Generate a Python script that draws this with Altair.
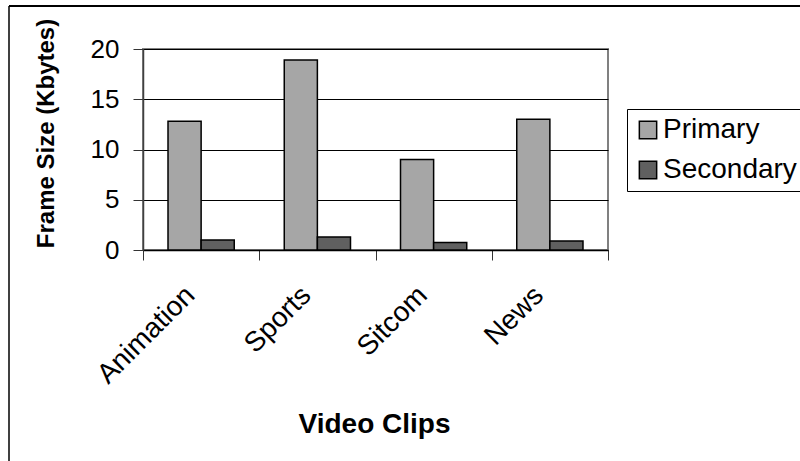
import altair as alt
import pandas as pd

# Frame sizes per video clip (Kbytes)
clips = ["Animation", "Sports", "Sitcom", "News"]
primary = [12.8, 18.9, 9.0, 13.0]
secondary = [1.0, 1.3, 0.75, 0.9]
series = ["Primary", "Secondary"]
series_colors = ["#a6a6a6", "#606060"]
y_ticks = [0, 5, 10, 15, 20]

rows = []
for clip, p, s in zip(clips, primary, secondary):
    rows.append({"clip": clip, "series": "Primary", "size": p})
    rows.append({"clip": clip, "series": "Secondary", "size": s})
df = pd.DataFrame(rows)

FONT = "Liberation Sans"

bars = alt.Chart(df).mark_bar(stroke="black", strokeWidth=1.5).encode(
    x=alt.X(
        "clip:N",
        sort=clips,
        scale=alt.Scale(paddingInner=0, paddingOuter=0),
        axis=alt.Axis(
            title="Video Clips",
            titleX=231,
            titleY=174,
            titleFont=FONT,
            titleFontSize=28,
            titleFontWeight="bold",
            titleColor="black",
            titleBaseline="middle",
            labelAngle=-45,
            labelFont=FONT,
            labelFontSize=28,
            labelColor="black",
            labelPadding=21,
            labelOffset=-21,
            tickBand="extent",
            tickSize=10,
            tickColor="#333333",
            domainColor="black",
            domainWidth=1.5,
            grid=False,
        ),
    ),
    xOffset=alt.XOffset(
        "series:N",
        sort=series,
        scale=alt.Scale(paddingInner=0, paddingOuter=0.755),
    ),
    y=alt.Y(
        "size:Q",
        scale=alt.Scale(domain=[0, 20]),
        axis=alt.Axis(
            title="Frame Size (Kbytes)",
            titleX=-97,
            titleY=84,
            titleAngle=270,
            titleAlign="center",
            titleBaseline="middle",
            titleFont=FONT,
            titleFontSize=24,
            titleFontWeight="bold",
            titleColor="black",
            values=y_ticks,
            labelFont=FONT,
            labelFontSize=26,
            labelColor="black",
            labelPadding=14,
            tickSize=10,
            tickColor="#333333",
            domainColor="#404040",
            domainWidth=1.5,
            grid=True,
            gridColor="black",
            gridWidth=1,
        ),
    ),
    color=alt.Color(
        "series:N",
        sort=series,
        scale=alt.Scale(domain=series, range=series_colors),
        legend=alt.Legend(
            title=None,
            orient="none",
            legendX=484,
            legendY=60,
            strokeColor="black",
            fillColor="white",
            padding=7,
            symbolType="square",
            symbolSize=300,
            symbolStrokeColor="black",
            symbolStrokeWidth=1.5,
            symbolOpacity=1,
            labelFont=FONT,
            labelFontSize=28,
            labelColor="black",
            labelOffset=1,
            rowPadding=12,
        ),
    ),
)

# Outer frame of the figure (left and top edges)
frame_src = pd.DataFrame({"k": [0]})
frame_left = alt.Chart(frame_src).mark_rule(color="black", strokeWidth=1.5).encode(
    x=alt.value(-134), y=alt.value(-43), y2=alt.value(430)
)
frame_top = alt.Chart(frame_src).mark_rule(color="black", strokeWidth=2).encode(
    x=alt.value(-134), x2=alt.value(700), y=alt.value(-43)
)

chart = (
    alt.layer(bars, frame_left, frame_top)
    .properties(
        width=465,
        height=201,
        autosize=alt.AutoSizeParams(type="none"),
        padding={"left": 143, "top": 49, "right": 192, "bottom": 211},
        background="white",
    )
    .configure_view(stroke="#808080", strokeWidth=2)
)

chart.save("out.html", embed_options={"renderer": "svg", "actions": False})
